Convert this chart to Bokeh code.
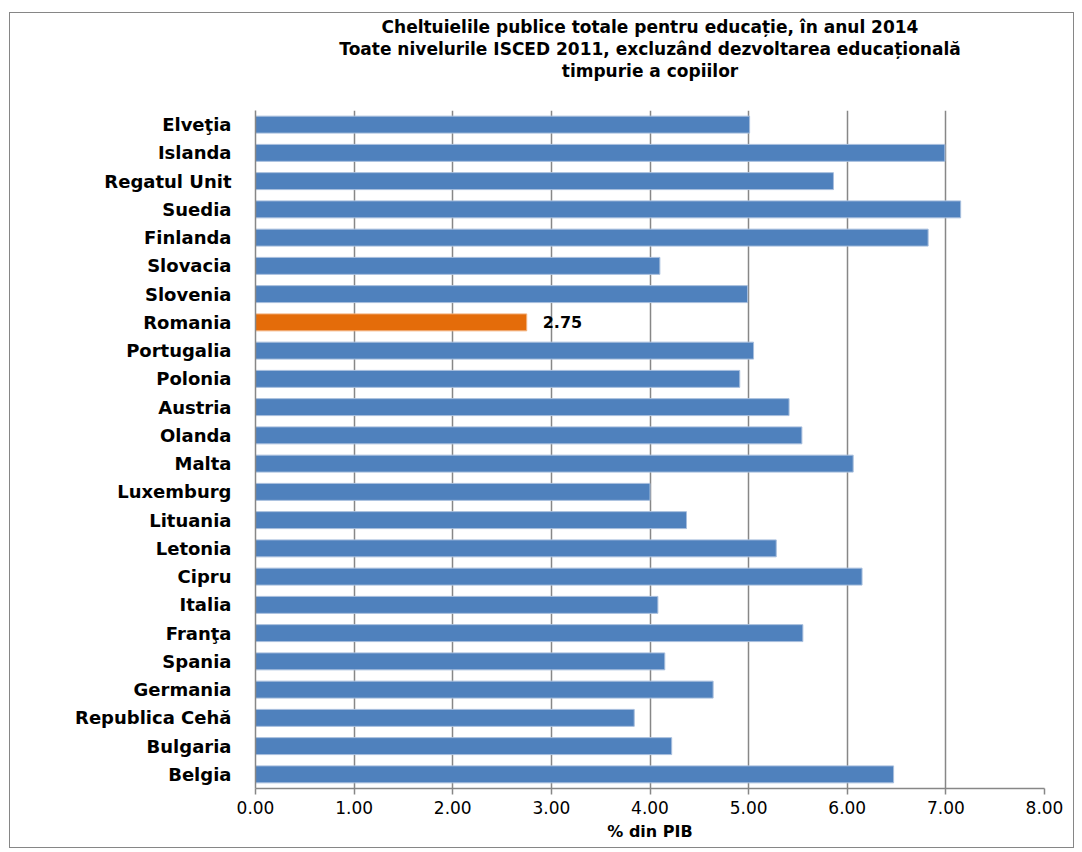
from bokeh.plotting import figure
from bokeh.models import ColumnDataSource, FactorRange, Range1d, FixedTicker, Title
from bokeh.core.properties import value
from bokeh.embed import file_html
from bokeh.resources import INLINE

# ---- data ----
countries = ["Elveţia", "Islanda", "Regatul Unit", "Suedia", "Finlanda", "Slovacia",
             "Slovenia", "Romania", "Portugalia", "Polonia", "Austria", "Olanda",
             "Malta", "Luxemburg", "Lituania", "Letonia", "Cipru", "Italia",
             "Franţa", "Spania", "Germania", "Republica Cehă", "Bulgaria", "Belgia"]
values = [5.01, 6.99, 5.86, 7.15, 6.82, 4.10,
          4.99, 2.75, 5.05, 4.91, 5.41, 5.54,
          6.06, 4.00, 4.37, 5.28, 6.15, 4.08,
          5.55, 4.15, 4.64, 3.84, 4.22, 6.47]
highlight = "Romania"
x_ticks = [0, 1, 2, 3, 4, 5, 6, 7, 8]
x_tick_labels = ["0.00", "1.00", "2.00", "3.00", "4.00", "5.00", "6.00", "7.00", "8.00"]
title_lines = ["Cheltuielile publice totale pentru educație, în anul 2014",
               "Toate nivelurile ISCED 2011, excluzând dezvoltarea educațională",
               "timpurie a copiilor"]
x_label = "% din PIB"

BLUE = "#4F81BD"
ORANGE = "#E46C0A"
GRID = "#878787"

colors = [ORANGE if c == highlight else BLUE for c in countries]
edges = ["#F3B27F" if c == highlight else "#A7BEDD" for c in countries]
src = ColumnDataSource(dict(country=countries, value=values, color=colors, edge=edges))

hl_idx = countries.index(highlight)
lab_src = ColumnDataSource(dict(country=[countries[hl_idx]], value=[values[hl_idx]],
                                txt=["%.2f" % values[hl_idx]]))

p = figure(width=1065, height=836, output_backend="svg", toolbar_location=None,
           y_range=FactorRange(factors=list(reversed(countries)), range_padding=0),
           x_range=Range1d(0, 8),
           min_border_left=245, min_border_right=31, min_border_top=97, min_border_bottom=61)
p.margin = (12, 0, 0, 9)
p.styles = {"border": "1px solid #868686"}
p.outline_line_color = None
p.background_fill_color = "white"
p.border_fill_color = "white"

p.hbar(y="country", right="value", left=0, height=0.6, source=src,
       fill_color="color", line_color="edge", line_width=1)

p.text(x="value", y="country", text="txt", source=lab_src, x_offset=16,
       text_baseline="middle", text_align="left",
       text_font=value("DejaVu Sans"), text_font_style="bold",
       text_font_size="16px", text_color="black")

# spacer between the plot area and the title block
p.add_layout(Title(text=" ", text_font_size="1px", standoff=27), "above")
# title lines (first added is closest to the plot area)
for line in reversed(title_lines):
    t = Title(text=line, align="center", offset=-100,
              text_font="DejaVu Sans", text_font_style="bold",
              text_font_size="17px", text_color="black", standoff=0)
    p.add_layout(t, "above")

# x axis
p.xaxis.ticker = FixedTicker(ticks=x_ticks)
p.xaxis.major_label_overrides = {t: l for t, l in zip(x_ticks, x_tick_labels)}
p.xaxis.axis_line_color = GRID
p.xaxis.axis_line_width = 1.5
p.xaxis.major_tick_line_color = GRID
p.xaxis.major_tick_line_width = 1.5
p.xaxis.major_tick_out = 6
p.xaxis.major_tick_in = 0
p.xaxis.minor_tick_line_color = None
p.xaxis.major_label_text_font = "DejaVu Sans"
p.xaxis.major_label_text_font_size = "17px"
p.xaxis.major_label_text_color = "black"
p.xaxis.major_label_standoff = 6
p.xaxis.axis_label = x_label
p.xaxis.axis_label_text_font = "DejaVu Sans"
p.xaxis.axis_label_text_font_style = "bold"
p.xaxis.axis_label_text_font_size = "16px"
p.xaxis.axis_label_text_color = "black"
p.xaxis.axis_label_standoff = 5

# y axis
p.yaxis.axis_line_color = GRID
p.yaxis.axis_line_width = 1.5
p.yaxis.major_tick_out = 0
p.yaxis.major_tick_in = 0
p.yaxis.minor_tick_line_color = None
p.yaxis.major_label_standoff = 24
p.yaxis.major_label_text_font = "DejaVu Sans"
p.yaxis.major_label_text_font_style = "bold"
p.yaxis.major_label_text_font_size = "18px"
p.yaxis.major_label_text_color = "black"

# grid
p.ygrid.grid_line_color = None
p.xgrid.ticker = FixedTicker(ticks=x_ticks)
p.xgrid.grid_line_color = GRID
p.xgrid.grid_line_width = 1.5

open("out.html", "w").write(file_html(p, INLINE))
